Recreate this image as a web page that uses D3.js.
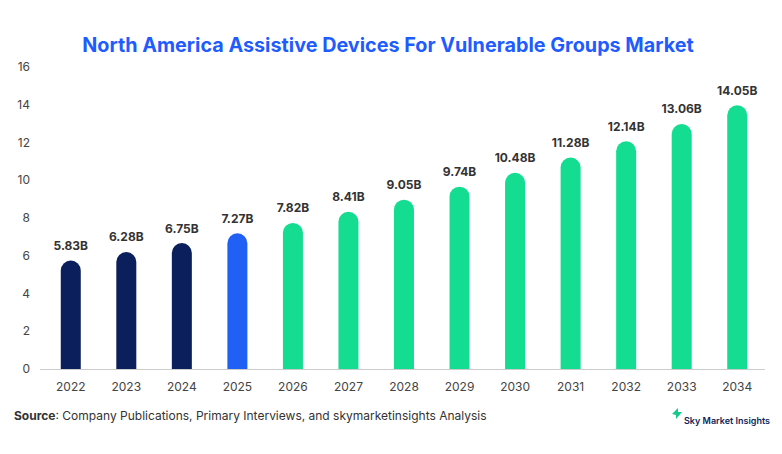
<!DOCTYPE html>
<html><head><meta charset="utf-8">
<script src="https://cdn.jsdelivr.net/npm/d3@7"></script>
<style>body{margin:0;background:#fff;font-family:Inter,"Noto Sans",sans-serif;}</style>
</head><body><svg id="c" width="782" height="454"></svg>
<script>
const years=["2022","2023","2024","2025","2026","2027","2028","2029","2030","2031","2032","2033","2034"];
const values=[5.83,6.28,6.75,7.27,7.82,8.41,9.05,9.74,10.48,11.28,12.14,13.06,14.05];
const labels=["5.83B","6.28B","6.75B","7.27B","7.82B","8.41B","9.05B","9.74B","10.48B","11.28B","12.14B","13.06B","14.05B"];
const yTicks=[0,2,4,6,8,10,12,14,16];
const colorOf=i=>i<3?"#0b1f5c":(i===3?"#2160f5":"#14dc91");
const svg=d3.select("#c");
const x=d3.scaleBand().domain(years).range([43,765]);
const y=d3.scaleLinear().domain([0,16]).range([369,67]);
svg.append("text").attr("x",388).attr("y",52).attr("text-anchor","middle").attr("font-size",19.8).attr("font-weight",700).attr("fill","#1f5cff").text("North America Assistive Devices For Vulnerable Groups Market");
svg.selectAll(".yt").data(yTicks).enter().append("text").attr("x",30).attr("y",d=>y(d)+4).attr("text-anchor","end").attr("font-size",12).attr("fill","#444").text(d=>d);
svg.append("line").attr("x1",40).attr("x2",765).attr("y1",369.5).attr("y2",369.5).attr("stroke","#ccc");
const bw=20,r=10;
svg.selectAll(".b").data(values).enter().append("path").attr("fill",(d,i)=>colorOf(i)).attr("d",(d,i)=>{
 const cx=x(years[i])+x.bandwidth()/2,x0=cx-bw/2,top=y(d)+1.5,b=y(0);
 return `M${x0},${b}V${top+r}A${r},${r} 0 0 1 ${x0+bw},${top+r}V${b}Z`;});
svg.selectAll(".l").data(values).enter().append("text").attr("x",(d,i)=>x(years[i])+x.bandwidth()/2).attr("y",d=>y(d)-9).attr("text-anchor","middle").attr("font-size",12).attr("font-weight",700).attr("fill","#333").text((d,i)=>labels[i]);
svg.selectAll(".xt").data(years).enter().append("text").attr("x",d=>x(d)+x.bandwidth()/2).attr("y",391).attr("text-anchor","middle").attr("font-size",12).attr("fill","#444").text(d=>d);
const s=svg.append("text").attr("x",14).attr("y",420).attr("font-size",12).attr("fill","#333");
s.append("tspan").attr("font-weight",700).text("Source");
s.append("tspan").text(": Company Publications, Primary Interviews, and skymarketinsights Analysis");
svg.append("path").attr("d","M672,414 l6,-6 l0,4 l4,0 l-6,7 l0,-4z").attr("fill","#14c98a");
svg.append("text").attr("x",684).attr("y",424).attr("font-size",9).attr("font-weight",600).attr("fill","#0b1f5c").text("Sky Market Insights");
</script></body></html>
